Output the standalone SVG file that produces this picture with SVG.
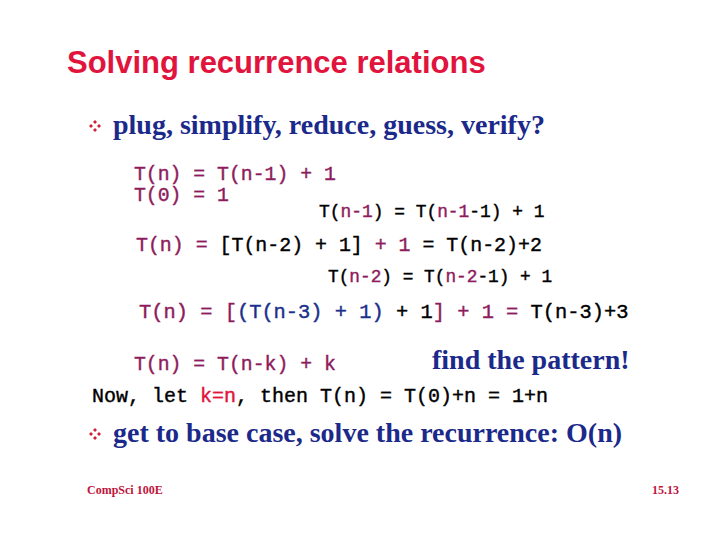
<svg xmlns="http://www.w3.org/2000/svg" width="720" height="540" viewBox="0 0 720 540">
<style>
.m{font-family:"Liberation Mono","Courier New",monospace;fill:#000;stroke:#000;stroke-width:0.4}
.p{fill:#8e1b5c;stroke:#8e1b5c}.b{fill:#1b2f8c;stroke:#1b2f8c}.r{fill:#e0143c;stroke:#e0143c}
.t{font-family:"Liberation Serif","Times New Roman",serif;font-weight:bold;fill:#1b2a8a}
.f{font-family:"Liberation Serif","Times New Roman",serif;font-weight:bold;fill:#c0143c}
</style>
<defs>
<g id="bul" fill="#d0203c"><path d="M0,-6 L2,-4 L0,-2 L-2,-4Z"/><path d="M0,6 L2,4 L0,2 L-2,4Z"/><path d="M-6,0 L-4,2 L-2,0 L-4,-2Z"/><path d="M6,0 L4,2 L2,0 L4,-2Z"/></g>
</defs>
<rect width="720" height="540" fill="#fff"/>
<text x="67" y="73" font-family="Liberation Sans,Arial,sans-serif" font-size="31" font-weight="bold" fill="#e0143c">Solving recurrence relations</text>
<use href="#bul" x="95" y="126"/>
<text class="t" x="113" y="134" font-size="28">plug, simplify, reduce, guess, verify?</text>
<text class="m p" x="134" y="180" font-size="19.8">T(n) = T(n-1) + 1</text>
<text class="m p" x="134" y="201" font-size="19.8">T(0) = 1</text>
<text class="m" x="319" y="217" font-size="17.9">T(<tspan class="p">n-1</tspan>) = T(<tspan class="p">n-1</tspan>-1) + 1</text>
<text class="m" x="136" y="251" font-size="19.9"><tspan class="p">T(n) = </tspan>[T(n-2) + 1]<tspan class="p"> + 1</tspan> = T(n-2)+2</text>
<text class="m" x="328" y="282" font-size="17.8">T(<tspan class="p">n-2</tspan>) = T(<tspan class="p">n-2</tspan>-1) + 1</text>
<text class="m" x="139" y="318" font-size="20.4"><tspan class="p">T(n) = [</tspan><tspan class="b">(T(n-3) + 1)</tspan> + 1<tspan class="p">] + 1 =</tspan> T(n-3)+3</text>
<text class="m p" x="134" y="370" font-size="19.8">T(n) = T(n-k) + k</text>
<text class="t" x="432" y="369" font-size="28">find the pattern!</text>
<text class="m" x="92" y="402" font-size="20">Now, let <tspan class="r">k=n</tspan>, then T(n) = T(0)+n = 1+n</text>
<use href="#bul" x="95" y="434"/>
<text class="t" x="113" y="442" font-size="28">get to base case, solve the recurrence: O(n)</text>
<text class="f" x="87" y="494" font-size="12">CompSci 100E</text>
<text class="f" x="679" y="494" font-size="12" text-anchor="end">15.13</text>
</svg>
